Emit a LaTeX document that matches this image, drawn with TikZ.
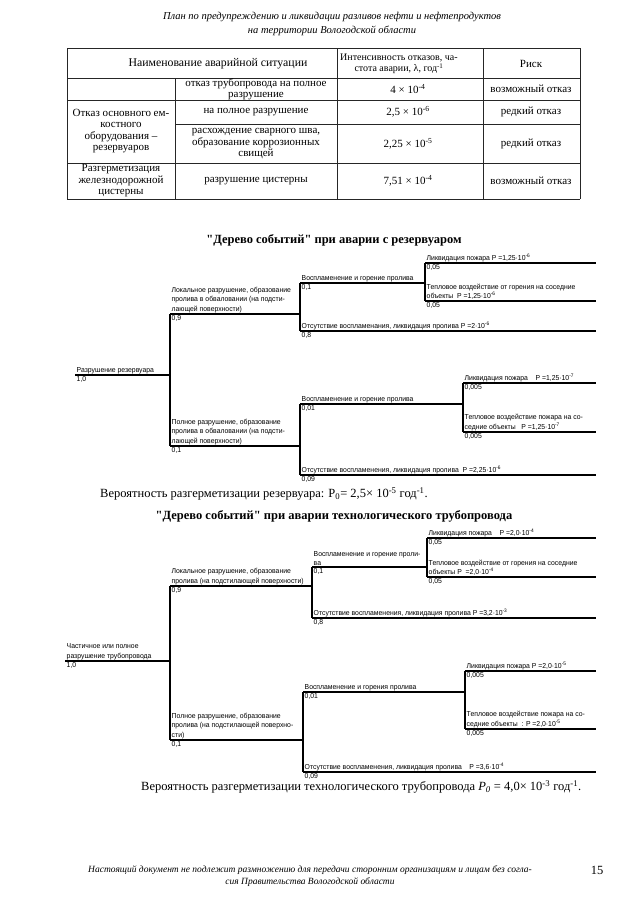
\documentclass[tikz,border=0pt]{standalone}
\usepackage{fontspec}
\setmainfont{Liberation Serif}
\newfontfamily\ttlfont[Ligatures=TeXOff]{Liberation Serif}
\newfontfamily\treefont[FakeStretch=0.95]{Liberation Sans}
\newcommand\tbranch[6]{%
  \coordinate (#1-s) at (#2,#4);
  \coordinate (#1-e) at (#3,#4);
  \draw[br] (#1-s) -- (#1-e);
  \node[tlab] (#1-l) at (#1-s) {#5};
  \node[tval] (#1-v) at (#1-s) {#6};
}
\newcommand\sps[1]{\textsuperscript{#1}}
\begin{document}
\begin{tikzpicture}[x=1pt,y=-1pt,
  br/.style={line width=1.1pt},
  tl/.style={line width=0.7pt, black!85},
  tlab/.style={anchor=south west, inner xsep=1.5pt, inner ysep=1.2pt, align=left, font=\treefont\fontsize{7.2}{9.5}\selectfont},
  tval/.style={anchor=north west, inner xsep=1.5pt, inner ysep=1.5pt, font=\treefont\fontsize{7.2}{9.5}\selectfont},
  cell/.style={align=center, inner sep=0pt, font=\fontsize{11}{11.5}\selectfont},
  hdr/.style={align=center, inner sep=0pt, font=\itshape\fontsize{10.5}{14}\selectfont},
  ttl/.style={inner sep=0pt, font=\ttlfont\bfseries\fontsize{12.5}{14}\selectfont},
  body/.style={anchor=west, inner sep=0pt, font=\fontsize{12.5}{14}\selectfont}
]
\useasboundingbox (0,0) rectangle (640,905);
\fill[white] (0,0) rectangle (640,905);

% header
\node[hdr] (h1) at (332,24) {План по предупреждению и ликвидации разливов нефти и нефтепродуктов\\на территории Вологодской области};

% table
\draw[tl] (67,48) -- (580,48);
\draw[tl] (67,78) -- (580,78);
\draw[tl] (67,100) -- (580,100);
\draw[tl] (175,124) -- (580,124);
\draw[tl] (67,163) -- (580,163);
\draw[tl] (67,199) -- (580,199);
\draw[tl] (67,48) -- (67,199);
\draw[tl] (580,48) -- (580,199);
\draw[tl] (337,48) -- (337,199);
\draw[tl] (483,48) -- (483,199);
\draw[tl] (175,78) -- (175,199);

\node[cell, font=\fontsize{11.8}{12}\selectfont] (t00) at (218,64) {Наименование аварийной ситуации};
\node[cell, font=\fontsize{10}{11}\selectfont] (t02) at (399,64) {Интенсивность отказов, ча-\\стота аварии, λ, год\sps{-1}};
\node[cell] (t03) at (531,64) {Риск};
\node[cell] (t11) at (256,89) {отказ трубопровода на полное\\разрушение};
\node[cell] (t12) at (408,89) {4 × 10\sps{-4}};
\node[cell] (t13) at (531,89) {возможный отказ};
\node[cell] (t20) at (121,131) {Отказ основного ем-\\костного\\оборудования –\\резервуаров};
\node[cell] (t21) at (256,112) {на полное разрушение};
\node[cell] (t22) at (408,112) {2,5 × 10\sps{-6}};
\node[cell] (t23) at (531,112) {редкий отказ};
\node[cell] (t31) at (256,144) {расхождение сварного шва,\\образование коррозионных\\свищей};
\node[cell] (t32) at (408,144) {2,25 × 10\sps{-5}};
\node[cell] (t33) at (531,144) {редкий отказ};
\node[cell] (t40) at (121,181) {Разгерметизация\\железнодорожной\\цистерны};
\node[cell] (t41) at (256,181) {разрушение цистерны};
\node[cell] (t42) at (408,181) {7,51 × 10\sps{-4}};
\node[cell] (t43) at (531,181) {возможный отказ};

% tree 1
\node[ttl] (T1) at (334,240) {"Дерево событий" при аварии с резервуаром};
\tbranch{R}{75}{170}{375}{Разрушение резервуара}{1,0}
\tbranch{A}{170}{300}{314}{Локальное разрушение, образование\\пролива в обваловании (на подсти-\\лающей поверхности)}{0,9}
\tbranch{B}{170}{300}{446}{Полное разрушение, образование\\пролива в обваловании (на подсти-\\лающей поверхности)}{0,1}
\tbranch{A1}{300}{425}{283}{Воспламенение и горение пролива}{0,1}
\tbranch{A2}{300}{596}{331}{Отсутствие воспламенания, ликвидация пролива P =2·10\sps{-6}}{0,8}
\tbranch{A11}{425}{596}{263}{Ликвидация пожара P =1,25·10\sps{-6}}{0,05}
\tbranch{A12}{425}{596}{301}{Тепловое воздействие от горения на соседние\\объекты~~P =1,25·10\sps{-6}}{0,05}
\tbranch{B1}{300}{463}{404}{Воспламенение и горение пролива}{0,01}
\tbranch{B2}{300}{596}{475}{Отсутствие воспламенения, ликвидация пролива~~P =2,25·10\sps{-6}}{0,09}
\tbranch{B11}{463}{596}{383}{Ликвидация пожара~~~~P =1,25·10\sps{-7}}{0,005}
\tbranch{B12}{463}{596}{432}{Тепловое воздействие пожара на со-\\седние объекты~~~P =1,25·10\sps{-7}}{0,005}
\draw[br] (A-s) -- (B-s);
\draw[br] (A1-s) -- (A2-s);
\draw[br] (A11-s) -- (A12-s);
\draw[br] (B1-s) -- (B2-s);
\draw[br] (B11-s) -- (B12-s);

\node[body] (P1) at (100,494) {Вероятность разгерметизации резервуара: P\textsubscript{0}= 2,5× 10\sps{-5} год\sps{-1}.};

% tree 2
\node[ttl] (T2) at (334,516) {"Дерево событий" при аварии технологического трубопровода};
\tbranch{S}{65}{170}{661}{Частичное или полное\\разрушение трубопровода}{1,0}
\tbranch{C}{170}{312}{586}{Локальное разрушение, образование\\пролива (на подстилающей поверхности)}{0,9}
\tbranch{D}{170}{303}{740}{Полное разрушение, образование\\пролива (на подстилающей поверхно-\\сти)}{0,1}
\tbranch{C1}{312}{427}{567}{Воспламенение и горение проли-\\ва}{0,1}
\tbranch{C2}{312}{596}{618}{Отсутствие воспламенения, ликвидация пролива P =3,2·10\sps{-3}}{0,8}
\tbranch{C11}{427}{596}{538}{Ликвидация пожара~~~~P =2,0·10\sps{-4}}{0,05}
\tbranch{C12}{427}{596}{577}{Тепловое воздействие от горения на соседние\\объекты P~~=2,0·10\sps{-4}}{0,05}
\tbranch{D1}{303}{465}{692}{Воспламенение и горения пролива}{0,01}
\tbranch{D2}{303}{596}{772}{Отсутствие воспламенения, ликвидация пролива~~~~P =3,6·10\sps{-4}}{0,09}
\tbranch{D11}{465}{596}{671}{Ликвидация пожара P =2,0·10\sps{-5}}{0,005}
\tbranch{D12}{465}{596}{729}{Тепловое воздействие пожара на со-\\седние объекты~~: P =2,0·10\sps{-5}}{0,005}
\draw[br] (C-s) -- (D-s);
\draw[br] (C1-s) -- (C2-s);
\draw[br] (C11-s) -- (C12-s);
\draw[br] (D1-s) -- (D2-s);
\draw[br] (D11-s) -- (D12-s);

\node[body] (P2) at (141,787) {Вероятность разгерметизации технологического трубопровода \textit{P\textsubscript{0}}~= 4,0× 10\sps{-3} год\sps{-1}.};

% footer
\node[hdr, font=\itshape\fontsize{9.5}{12}\selectfont] (F1) at (310,876) {Настоящий документ не подлежит размножению для передачи сторонним организациям и лицам без согла-\\сия Правительства Вологодской области};
\node[inner sep=0pt, font=\fontsize{12.5}{14}\selectfont] (pg) at (597,870) {15};
\end{tikzpicture}
\end{document}
